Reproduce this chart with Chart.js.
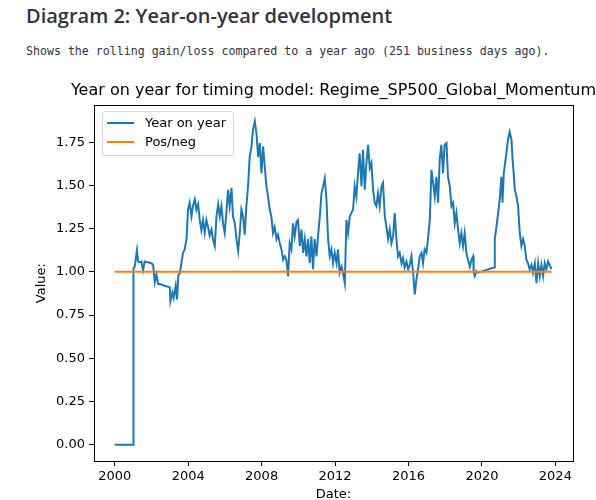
<!DOCTYPE html>
<html>
<head>
<meta charset="utf-8">
<title>Year-on-year development</title>
<script src="https://cdn.jsdelivr.net/npm/chart.js@4.4.1/dist/chart.umd.min.js"></script>
<style>
  html, body { margin: 0; padding: 0; background: #fff; }
  body { width: 596px; height: 500px; overflow: hidden; position: relative; }
  h2 {
    position: absolute; left: 26px; top: 2px; margin: 0;
    font-family: "Open Sans", sans-serif; font-weight: 600; font-size: 20px;
    color: #31333f; white-space: nowrap;
  }
  .sub {
    position: absolute; left: 26px; top: 44px; margin: 0;
    font-family: "DejaVu Sans Mono", monospace; font-size: 11.6px;
    color: #31333f; white-space: pre;
  }
  #wrap { position: absolute; left: 0; top: 75px; width: 637px; height: 440px; }
  .legend {
    position: absolute; left: 102px; top: 111px; width: 130px; height: 43px;
    border: 1px solid #d6d6d6; border-radius: 3px; background: rgba(255,255,255,0.85);
    font-family: "DejaVu Sans", sans-serif; font-size: 13px; color: #000;
  }
  .legend .row { position: absolute; left: 0; height: 18px; line-height: 18px; }
  .legend .sw { position: absolute; left: 4px; width: 27px; height: 2px; }
  .legend .lbl { position: absolute; left: 42px; white-space: nowrap; }
</style>
</head>
<body>
<h2>Diagram 2: Year-on-year development</h2>
<p class="sub">Shows the rolling gain/loss compared to a year ago (251 business days ago).</p>
<div id="wrap"><canvas id="chart"></canvas></div>
<div class="legend">
  <div class="row" style="top:2px"><span class="sw" style="top:8px;background:#1f77b4"></span><span class="lbl">Year on year</span></div>
  <div class="row" style="top:21px"><span class="sw" style="top:8px;background:#ff7f0e"></span><span class="lbl">Pos/neg</span></div>
</div>
<script>
// datos (fecha en años decimales)
const yoyDates = [
  2000.00, 2001.01, 2001.02, 2001.09, 2001.21, 2001.27, 2001.36, 2001.45, 2001.54, 2001.63,
  2001.80, 2002.00, 2002.09, 2002.18, 2002.27, 2002.36, 2002.45, 2002.72, 2003.00, 2003.03,
  2003.14, 2003.21, 2003.32, 2003.39, 2003.47, 2003.54, 2003.63, 2003.72, 2003.81, 2003.91,
  2003.99, 2004.08, 2004.18, 2004.26, 2004.36, 2004.45, 2004.54, 2004.63, 2004.72, 2004.81,
  2004.90, 2004.99, 2005.08, 2005.17, 2005.27, 2005.35, 2005.45, 2005.54, 2005.63, 2005.72,
  2005.81, 2005.90, 2005.99, 2006.08, 2006.17, 2006.26, 2006.36, 2006.44, 2006.54, 2006.63,
  2006.72, 2006.81, 2006.90, 2006.99, 2007.08, 2007.17, 2007.26, 2007.35, 2007.45, 2007.53,
  2007.63, 2007.72, 2007.81, 2007.90, 2007.99, 2008.08, 2008.17, 2008.26, 2008.35, 2008.44,
  2008.53, 2008.62, 2008.71, 2008.81, 2008.89, 2008.99, 2009.08, 2009.17, 2009.26, 2009.35,
  2009.44, 2009.53, 2009.62, 2009.71, 2009.80, 2009.90, 2009.98, 2010.08, 2010.17, 2010.26,
  2010.35, 2010.44, 2010.53, 2010.62, 2010.71, 2010.80, 2010.89, 2010.99, 2011.07, 2011.17,
  2011.26, 2011.35, 2011.44, 2011.53, 2011.62, 2011.71, 2011.80, 2011.89, 2011.98, 2012.08,
  2012.16, 2012.25, 2012.35, 2012.43, 2012.53, 2012.62, 2012.71, 2012.80, 2012.89, 2012.98,
  2013.07, 2013.16, 2013.25, 2013.34, 2013.44, 2013.52, 2013.62, 2013.71, 2013.80, 2013.89,
  2013.98, 2014.07, 2014.16, 2014.25, 2014.34, 2014.43, 2014.53, 2014.61, 2014.71, 2014.80,
  2014.89, 2014.98, 2015.07, 2015.16, 2015.25, 2015.34, 2015.43, 2015.52, 2015.62, 2015.70,
  2015.79, 2015.89, 2015.98, 2016.07, 2016.16, 2016.25, 2016.34, 2016.43, 2016.52, 2016.61,
  2016.71, 2016.79, 2016.88, 2016.98, 2017.06, 2017.16, 2017.25, 2017.34, 2017.43, 2017.52,
  2017.61, 2017.70, 2017.79, 2017.88, 2017.97, 2018.07, 2018.15, 2018.25, 2018.34, 2018.43,
  2018.52, 2018.61, 2018.70, 2018.79, 2018.88, 2018.97, 2019.06, 2019.15, 2019.24, 2019.34,
  2019.43, 2019.52, 2019.55, 2019.61, 2019.70, 2019.79, 2020.66, 2020.70, 2020.79, 2020.88,
  2020.97, 2021.06, 2021.12, 2021.19, 2021.24, 2021.33, 2021.42, 2021.51, 2021.61, 2021.66,
  2021.73, 2021.79, 2021.88, 2021.97, 2022.06, 2022.15, 2022.24, 2022.33, 2022.42, 2022.51,
  2022.60, 2022.70, 2022.78, 2022.88, 2022.97, 2023.06, 2023.15, 2023.24, 2023.33, 2023.42,
  2023.51, 2023.60, 2023.69, 2023.79
];
const yoyValues = [
  0.000, 0.000, 1.020, 1.030, 1.125, 1.060, 1.055, 1.060, 1.010, 1.060,
  1.055, 1.050, 1.040, 0.940, 0.985, 0.930, 0.930, 0.920, 0.910, 0.830,
  0.880, 0.850, 0.920, 0.840, 0.985, 0.990, 1.050, 1.110, 1.130, 1.190,
  1.360, 1.400, 1.320, 1.380, 1.420, 1.360, 1.390, 1.300, 1.240, 1.300,
  1.225, 1.300, 1.260, 1.210, 1.245, 1.190, 1.150, 1.320, 1.390, 1.320,
  1.380, 1.280, 1.225, 1.340, 1.475, 1.380, 1.485, 1.320, 1.280, 1.190,
  1.120, 1.225, 1.360, 1.320, 1.215, 1.380, 1.495, 1.665, 1.725, 1.820,
  1.870, 1.800, 1.665, 1.745, 1.570, 1.725, 1.610, 1.495, 1.435, 1.360,
  1.320, 1.225, 1.260, 1.190, 1.215, 1.165, 1.130, 1.070, 1.090, 1.070,
  0.975, 1.165, 1.130, 1.280, 1.205, 1.290, 1.300, 1.150, 1.245, 1.110,
  1.190, 1.090, 1.190, 1.050, 1.205, 1.015, 1.190, 1.090, 1.205, 1.320,
  1.455, 1.495, 1.540, 1.420, 1.190, 1.090, 1.130, 1.050, 1.110, 1.050,
  1.130, 0.995, 1.030, 0.995, 0.935, 1.300, 1.225, 1.320, 1.340, 1.360,
  1.495, 1.435, 1.570, 1.685, 1.495, 1.705, 1.475, 1.630, 1.735, 1.600,
  1.630, 1.475, 1.400, 1.380, 1.455, 1.380, 1.495, 1.515, 1.320, 1.260,
  1.190, 1.245, 1.165, 1.205, 1.340, 1.190, 1.090, 1.110, 1.050, 1.080,
  1.025, 1.060, 1.015, 1.040, 1.090, 0.995, 0.870, 0.955, 1.015, 1.090,
  1.110, 1.050, 1.130, 1.110, 1.190, 1.300, 1.590, 1.515, 1.435, 1.550,
  1.400, 1.650, 1.735, 1.570, 1.735, 1.745, 1.550, 1.495, 1.380, 1.400,
  1.280, 1.340, 1.245, 1.165, 1.225, 1.150, 1.225, 1.110, 1.070, 1.030,
  1.070, 1.090, 0.995, 0.975, 1.005, 0.995, 1.025, 1.190, 1.260, 1.340,
  1.420, 1.550, 1.400, 1.570, 1.610, 1.685, 1.765, 1.810, 1.765, 1.665,
  1.570, 1.475, 1.435, 1.380, 1.225, 1.150, 1.190, 1.150, 1.070, 1.050,
  1.015, 1.040, 0.995, 1.050, 0.935, 1.050, 0.975, 1.040, 0.975, 1.050,
  1.015, 1.060, 1.040, 1.015
];
const posNegDates = [2000.00, 2023.79];
const posNegValues = [1.0, 1.0];

const xTicks = [2000, 2004, 2008, 2012, 2016, 2020, 2024];
const yTicks = [0.00, 0.25, 0.50, 0.75, 1.00, 1.25, 1.50, 1.75];

const chartTitle = "Year on year for timing model: Regime_SP500_Global_Momentum";
const FONT = "'DejaVu Sans', sans-serif";

// marco completo estilo matplotlib
const frame = {
  id: "frame",
  afterDatasetsDraw(chart) {
    const { ctx, chartArea: a } = chart;
    ctx.save();
    ctx.strokeStyle = "#000";
    ctx.lineWidth = 1;
    ctx.strokeRect(Math.round(a.left) + 0.5, Math.round(a.top) + 0.5,
                   Math.round(a.right - a.left), Math.round(a.bottom - a.top));
    ctx.restore();
  }
};

const toXY = (xs, ys) => xs.map((x, i) => ({ x, y: ys[i] }));

new Chart(document.getElementById("chart"), {
  type: "line",
  data: {
    datasets: [
      { label: "Pos/neg", data: toXY(posNegDates, posNegValues), borderColor: "#ff7f0e",
        borderWidth: 2, pointRadius: 0, tension: 0, order: 0 },
      { label: "Year on year", data: toXY(yoyDates, yoyValues), borderColor: "#1f77b4",
        borderWidth: 2, pointRadius: 0, tension: 0, order: 1 }
    ]
  },
  options: {
    responsive: true,
    maintainAspectRatio: false,
    animation: false,
    layout: { padding: { left: 30, right: 0, top: 0, bottom: 0 } },
    plugins: {
      legend: { display: false },
      tooltip: { enabled: false },
      title: {
        display: true, text: chartTitle, color: "#000",
        font: { family: FONT, size: 16, weight: "normal" },
        padding: { top: 6, bottom: 5 }
      }
    },
    scales: {
      x: {
        type: "linear", min: 1998.87, max: 2024.96,
        afterBuildTicks: s => { s.ticks = xTicks.map(v => ({ value: v })); },
        afterFit: s => { s.height = 54; },
        grid: { display: true, drawOnChartArea: false, drawTicks: true, tickLength: 5, color: "#000" },
        border: { display: true, color: "#000" },
        ticks: { color: "#000", font: { family: FONT, size: 13 }, padding: 3, maxRotation: 0,
                 callback: v => String(v) },
        title: { display: true, text: "Date:", color: "#000", font: { family: FONT, size: 13 },
                 padding: { top: 2, bottom: 13 } }
      },
      y: {
        min: -0.0935, max: 1.9635,
        afterBuildTicks: s => { s.ticks = yTicks.map(v => ({ value: v })); },
        afterFit: s => { s.width = 64; },
        grid: { display: true, drawOnChartArea: false, drawTicks: true, tickLength: 5, color: "#000" },
        border: { display: true, color: "#000" },
        ticks: { color: "#000", font: { family: FONT, size: 13 }, padding: 4,
                 callback: v => v.toFixed(2) },
        title: { display: true, text: "Value:", color: "#000", font: { family: FONT, size: 13 },
                 padding: { top: 4, bottom: 4 } }
      },
      // eje vacio a la derecha: solo reserva espacio para centrar el titulo sobre los ejes
      yPad: {
        position: "right", display: true,
        afterFit: s => { s.width = 64; },
        grid: { display: false }, border: { display: false }, ticks: { display: false }
      }
    }
  },
  plugins: [frame]
});
</script>
</body>
</html>
